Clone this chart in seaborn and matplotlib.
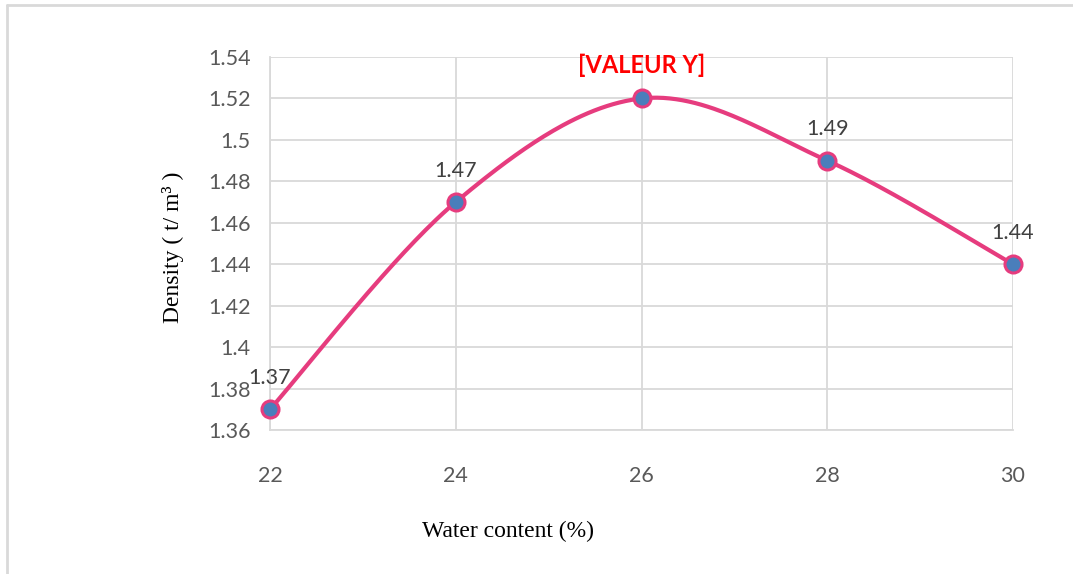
import numpy as np
import pandas as pd
import matplotlib
matplotlib.use("Agg")
import matplotlib.pyplot as plt
import seaborn as sns
from matplotlib.lines import Line2D

water = [22, 24, 26, 28, 30]
density = [1.37, 1.47, 1.52, 1.49, 1.44]
labels = ["1.37", "1.47", "[VALEUR Y]", "1.49", "1.44"]
xticks = [22, 24, 26, 28, 30]
yticks = [1.36, 1.38, 1.40, 1.42, 1.44, 1.46, 1.48, 1.50, 1.52, 1.54]
ytick_labels = ["1.36", "1.38", "1.4", "1.42", "1.44", "1.46", "1.48", "1.5", "1.52", "1.54"]

sns.set_theme(style="white")
plt.rcParams['font.family'] = ['Lato', 'DejaVu Sans']

df = pd.DataFrame({"water": water, "density": density})

# Excel-like smoothed line (Catmull-Rom / Bezier through points)
def smooth(xs, ys, n=60):
    xs = np.asarray(xs, float); ys = np.asarray(ys, float)
    P = np.column_stack([xs, ys])
    out = []
    for i in range(len(P) - 1):
        p0 = P[i - 1] if i > 0 else P[i]
        p1 = P[i]; p2 = P[i + 1]
        p3 = P[i + 2] if i + 2 < len(P) else P[i + 1]
        c1 = p1 + (p2 - p0) / 6
        c2 = p2 - (p3 - p1) / 6
        t = np.linspace(0, 1, n)[:, None]
        seg = (1 - t) ** 3 * p1 + 3 * (1 - t) ** 2 * t * c1 + 3 * (1 - t) * t ** 2 * c2 + t ** 3 * p2
        out.append(seg if i == 0 else seg[1:])
    return np.vstack(out)

curve = smooth(water, density)
cdf = pd.DataFrame({"x": curve[:, 0], "y": curve[:, 1]})

W, H = 1073, 574
fig = plt.figure(figsize=(W / 100, H / 100), dpi=100)
ax = fig.add_axes([270 / W, 1 - 430 / H, (1013 - 270) / W, (430 - 57) / H])

grid_c = "#D9D9D9"
ax.set_axisbelow(True)
ax.grid(True, color=grid_c, linewidth=1.3)

sns.lineplot(data=cdf, x="x", y="y", ax=ax, color="#E63C7E", linewidth=3.0, sort=False, zorder=3)
sns.scatterplot(data=df, x="water", y="density", ax=ax, s=150, color="#4A7EBB",
                edgecolor="#E63C7E", linewidth=2.2, zorder=4, clip_on=False)

ax.set_xlim(22, 30)
ax.set_ylim(1.36, 1.54)
ax.set_xticks(xticks)
ax.set_xticklabels([str(v) for v in xticks])
ax.set_yticks(yticks)
ax.set_yticklabels(ytick_labels)
ax.tick_params(axis="x", length=0, pad=26, labelsize=15.5, labelcolor="#595959")
ax.tick_params(axis="y", length=0, pad=14, labelsize=15.5, labelcolor="#595959")

for s in ["top", "right"]:
    ax.spines[s].set_visible(False)
for s in ["left", "bottom"]:
    ax.spines[s].set_color(grid_c)
    ax.spines[s].set_linewidth(1.3)

for x, y, lab in zip(water, density, labels):
    if lab.startswith("["):
        ax.annotate(lab, (x, y), xytext=(0, 24), textcoords="offset points",
                    ha="center", va="center", fontsize=17, color="#FF0000", fontweight="bold")
    else:
        ax.annotate(lab, (x, y), xytext=(0, 22.5), textcoords="offset points",
                    ha="center", va="center", fontsize=15.5, color="#404040")

ax.set_xlabel("")
ax.set_ylabel("")
fig.text(508 / W, 1 - 531 / H, "Water content (%)", family=["Liberation Serif"], fontsize=17,
         color="black", ha="center", va="center")
fig.text(173 / W, 1 - 247 / H, "Density ( t/ m³ )", family=["Liberation Serif"], fontsize=17,
         color="black", ha="center", va="center", rotation=90)

# outer chart border (top and left only visible)
fig.add_artist(Line2D([7 / W, 7 / W], [0, 1 - 5 / H], transform=fig.transFigure, color=grid_c, linewidth=2))
fig.add_artist(Line2D([7 / W, 1], [1 - 5 / H, 1 - 5 / H], transform=fig.transFigure, color=grid_c, linewidth=2))

fig.savefig("out.png", dpi=100)
